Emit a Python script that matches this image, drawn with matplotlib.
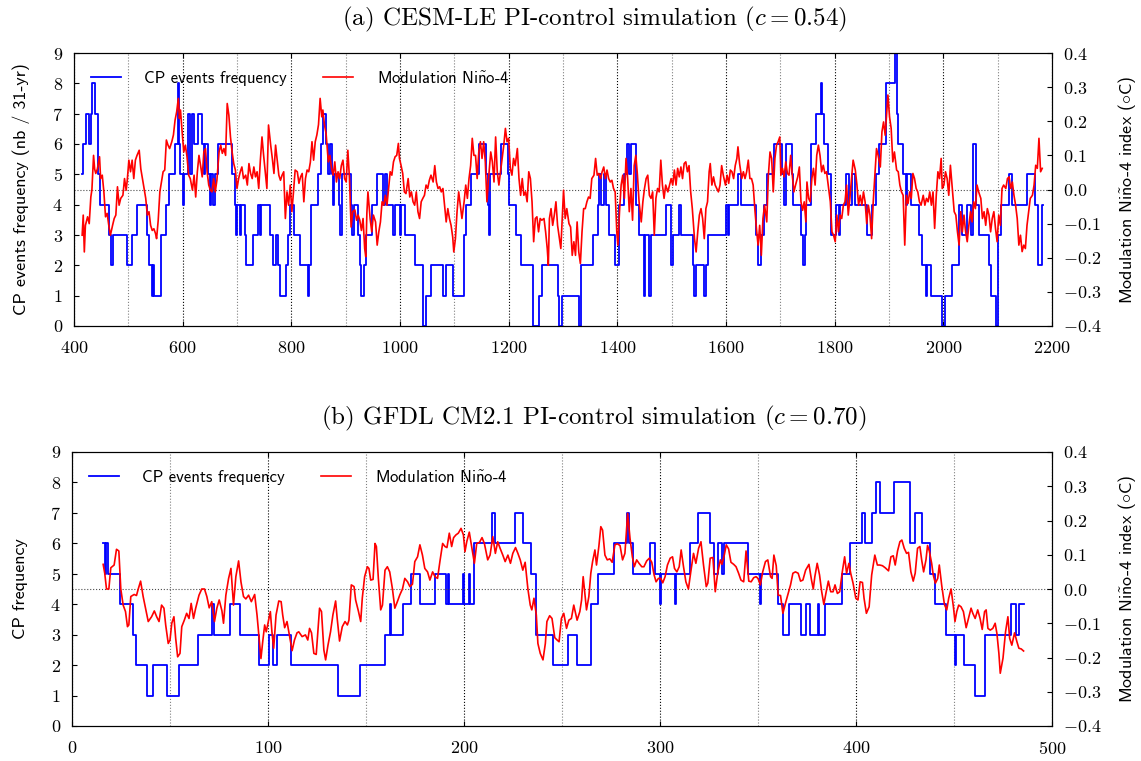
import matplotlib
matplotlib.use("Agg")
import matplotlib.pyplot as plt
from matplotlib.ticker import MultipleLocator

plt.rcParams['font.family'] = 'serif'
plt.rcParams['font.serif'] = ['cmr10']
plt.rcParams['mathtext.fontset'] = 'cm'
plt.rcParams['axes.formatter.use_mathtext'] = True
plt.rcParams['axes.unicode_minus'] = True

SANS = ['cmss10', 'DejaVu Sans']
NINO = r'Ni$\tilde{\mathsf{n}}$o-4'

# ---------------- (a) CESM-LE ----------------
# CP events frequency: change years and level (step function)
cesm_cp_years = [415, 416, 422, 428, 431, 434, 439, 443.5, 448, 465, 469, 471, 497, 506, 516, 535,
                 538.5, 543, 545, 547, 561, 569, 575, 586, 590.5, 593.5, 595, 601, 602, 610, 613,
                 618, 620.5, 628.5, 635, 639, 641, 647, 650, 653, 656, 659, 665, 690, 696, 698, 700,
                 705, 708, 714, 717, 729.5, 739, 742, 745, 760, 766, 771, 775.5, 778.5, 791, 794,
                 798, 805, 816, 830, 833, 836, 849, 855, 858, 863, 867.5, 870.5, 875, 876.7, 878.5,
                 888, 890, 893, 910, 912, 914.6, 922.6, 925.7, 928.8, 933.7, 938, 949, 957.6, 968.6,
                 971.6, 976, 987, 990, 999.2, 1002, 1008.4, 1026.8, 1042, 1043, 1047, 1057.4, 1078.9,
                 1085, 1097.3, 1118.7, 1121.8, 1131, 1146.3, 1158.5, 1161.6, 1163.4, 1166, 1186,
                 1198.4, 1201.4, 1213.7, 1222.9, 1244.3, 1256.6, 1261.5, 1290, 1293, 1298, 1329,
                 1333, 1355, 1364, 1367, 1370, 1376, 1379, 1385, 1396, 1402.5, 1413, 1417, 1422,
                 1425, 1434, 1440.4, 1448.4, 1451.4, 1459, 1462, 1489.5, 1498.6, 1501.7, 1512.7,
                 1517, 1538.5, 1542, 1544.6, 1560, 1563, 1566, 1600, 1603, 1606, 1623, 1627.3,
                 1636.5, 1655, 1658, 1664, 1670, 1676, 1688.6, 1698, 1703, 1707, 1711, 1721, 1723.5,
                 1737.6, 1742.5, 1745.6, 1748, 1756, 1765, 1774.4, 1777.5, 1780.5, 1788.5, 1792.8,
                 1803, 1808, 1810, 1820, 1826, 1832.6, 1837.5, 1860, 1869.4, 1875.5, 1881.6, 1894,
                 1910.4, 1914, 1917, 1925.7, 1930.6, 1933.7, 1939.8, 1955, 1961.3, 1967.4, 1970.5,
                 1976.6, 1998, 2002.6, 2016.4, 2028.7, 2033.6, 2044, 2050, 2055, 2059.3, 2065.4,
                 2083.8, 2087, 2096.1, 2100.4, 2105.3, 2120.6, 2126.7, 2154.3, 2169.6, 2174.5,
                 2181.8, 2183]
cesm_cp_vals = [5, 6, 7, 6, 7, 8, 7, 5, 4, 3, 2, 3, 2, 3, 4, 3,
                2, 1, 2, 1, 3, 4, 5, 6, 8, 6, 5, 4, 5, 7, 5,
                7, 6, 7, 6, 5, 6, 5, 4, 5, 4, 5, 6, 5, 4, 3, 4,
                3, 4, 3, 2, 3, 4, 3, 4, 3, 2, 3, 2, 1, 2, 3,
                4, 3, 2, 1, 2, 4, 5, 6, 7, 6, 5, 6, 5, 4, 5,
                4, 3, 5, 4, 3, 4, 3, 2, 1, 2, 3, 4, 5, 4,
                5, 4, 3, 4, 3, 4, 3, 2, 1, 0, 1, 2, 1,
                2, 1, 3, 4, 5, 6, 5, 4, 3, 5, 6,
                5, 4, 3, 2, 0, 1, 2, 1, 0, 1, 0,
                2, 3, 4, 5, 4, 5, 4, 3, 2, 4, 5, 6, 5,
                6, 4, 3, 1, 3, 1, 3, 4, 2, 3, 4,
                3, 2, 1, 2, 1, 2, 3, 4, 3, 4, 5, 4,
                4, 3, 2, 3, 4, 5, 6, 6, 5, 4, 6, 5, 4,
                3, 2, 3, 4, 6, 7, 8, 7, 6, 5, 3,
                4, 3, 4, 5, 4, 5, 4, 3, 4, 5, 6, 8,
                9, 7, 6, 5, 4, 5, 4, 3, 2, 1, 2,
                1, 0, 1, 2, 4, 3, 4, 3, 6, 4, 3,
                2, 1, 0, 3, 4, 5, 4, 5, 4, 2,
                4, 4]

# Modulation Nino-4 (degC)
cesm_n4_years = [415, 417, 419, 421, 425, 428, 431, 433, 436, 438, 440, 443, 447, 449, 452, 455, 458,
                 461, 464, 467, 471, 474, 477, 480, 483, 486, 490, 493, 496, 498, 501, 504, 507, 510,
                 513, 516, 520, 523, 526, 529, 532, 535, 538, 541, 544, 547, 550, 552, 555, 558, 561,
                 564, 567, 570, 573, 576, 580, 583, 586, 589, 592, 594, 596, 599, 602, 605, 608, 611,
                 614, 618, 621, 624, 627, 630, 633, 636, 639, 642, 645, 648, 651, 654, 657, 660, 663,
                 667, 670, 673, 676, 679, 682, 685, 688, 691, 694, 697, 700, 703, 706, 709, 712, 716,
                 719, 722, 725, 728, 731, 734, 737, 740, 743, 746, 749, 752, 755, 758, 762, 765, 768,
                 771, 774, 777, 780, 783, 786, 789, 792, 795, 798, 801, 804, 807, 811, 814, 817, 820,
                 823, 826, 829, 832, 835, 838, 841, 844, 847, 850, 853, 856, 858, 861, 864, 868, 871,
                 874, 877, 880, 883, 886, 889, 892, 895, 898, 901, 904, 907, 910, 913, 917, 920, 923,
                 926, 929, 932, 935, 937, 939, 941, 943, 945, 948, 951, 955, 958, 961, 964, 967, 970,
                 973, 976, 979, 982, 985, 988, 991, 994, 997, 999, 1002, 1005, 1008, 1011, 1015, 1018,
                 1021, 1024, 1027, 1030, 1033, 1036, 1039, 1042, 1045, 1048, 1051, 1054, 1057, 1061,
                 1064, 1067, 1070, 1073, 1076, 1079, 1082, 1085, 1088, 1091, 1094, 1097, 1099, 1102,
                 1105, 1108, 1111, 1114, 1118, 1121, 1124, 1127, 1130, 1133, 1136, 1139, 1142, 1145,
                 1148, 1151, 1154, 1157, 1160, 1163, 1167, 1170, 1173, 1176, 1179, 1182, 1185, 1188,
                 1191, 1194, 1197, 1200, 1203, 1206, 1209, 1212, 1216, 1219, 1222, 1225, 1228, 1231,
                 1234, 1237, 1240, 1243, 1246, 1249, 1252, 1255, 1258, 1261, 1265, 1268, 1271, 1273,
                 1275, 1278, 1281, 1284, 1287, 1290, 1293, 1296, 1300, 1301, 1304, 1307, 1311, 1314,
                 1317, 1320, 1323, 1326, 1329, 1332, 1335, 1338, 1341, 1344, 1347, 1350, 1353, 1357,
                 1360, 1363, 1366, 1369, 1372, 1375, 1378, 1381, 1384, 1387, 1390, 1393, 1396, 1399,
                 1401, 1404, 1407, 1410, 1413, 1416, 1419, 1422, 1425, 1428, 1431, 1434, 1437, 1440,
                 1444, 1447, 1450, 1453, 1456, 1459, 1462, 1465, 1468, 1471, 1474, 1477, 1480, 1483,
                 1486, 1489, 1493, 1496, 1499, 1502, 1505, 1508, 1511, 1514, 1517, 1520, 1523, 1526,
                 1529, 1532, 1535, 1538, 1542, 1545, 1548, 1551, 1554, 1557, 1560, 1563, 1566, 1569,
                 1571, 1574, 1577, 1580, 1583, 1586, 1589, 1592, 1595, 1599, 1602, 1605, 1608, 1611,
                 1614, 1617, 1620, 1622, 1625, 1629, 1632, 1635, 1638, 1641, 1644, 1647, 1650, 1653,
                 1656, 1659, 1662, 1665, 1668, 1671, 1675, 1678, 1681, 1684, 1687, 1690, 1693, 1696,
                 1699, 1701, 1704, 1707, 1710, 1713, 1716, 1719, 1722, 1725, 1728, 1732, 1735, 1738,
                 1741, 1744, 1747, 1749, 1752, 1755, 1758, 1761, 1764, 1767, 1770, 1773, 1776, 1779,
                 1782, 1785, 1789, 1792, 1795, 1798, 1801, 1804, 1807, 1810, 1813, 1816, 1819, 1822,
                 1825, 1828, 1831, 1834, 1838, 1841, 1844, 1847, 1850, 1853, 1856, 1859, 1862, 1865,
                 1868, 1871, 1874, 1877, 1880, 1884, 1887, 1890, 1893, 1896, 1898, 1901, 1904, 1907,
                 1910, 1914, 1917, 1920, 1923, 1926, 1929, 1932, 1935, 1938, 1941, 1944, 1947, 1950,
                 1953, 1956, 1959, 1963, 1966, 1969, 1972, 1975, 1978, 1981, 1984, 1987, 1990, 1993,
                 1996, 1998, 2001, 2004, 2007, 2010, 2013, 2016, 2020, 2023, 2026, 2029, 2032, 2035,
                 2038, 2041, 2044, 2047, 2050, 2053, 2056, 2059, 2062, 2065, 2069, 2072, 2075, 2078,
                 2081, 2084, 2087, 2090, 2093, 2096, 2099, 2102, 2105, 2108, 2111, 2115, 2118, 2121,
                 2124, 2127, 2130, 2133, 2136, 2139, 2142, 2145, 2148, 2151, 2154, 2157, 2160, 2164,
                 2167, 2170, 2173, 2176, 2179, 2182]
cesm_n4_vals = [-0.134, -0.075, -0.183, -0.105, -0.08, -0.10, -0.022, 0.0, 0.10, 0.06, 0.047, 0.06,
                0.096, 0.032, 0.042, -0.007, -0.08, -0.07, -0.105, -0.134, -0.105, -0.085, -0.075,
                0.008, -0.046, -0.026, -0.017, 0.032, -0.002, 0.027, 0.086, 0.052, 0.086, 0.032,
                0.086, 0.10, 0.115, 0.06, 0.032, 0.003, -0.026, -0.075, -0.065, -0.105, -0.12,
                -0.115, -0.129, -0.144, -0.09, -0.007, 0.022, 0.052, 0.057, 0.145, 0.13, 0.12,
                0.14, 0.16, 0.203, 0.228, 0.267, 0.208, 0.233, 0.169, 0.11, 0.13, 0.096, 0.042,
                0.032, -0.002, 0.042, -0.022, 0.052, 0.10, 0.07, 0.037, 0.11, 0.12, 0.052, 0.013,
                -0.002, -0.007, 0.032, -0.007, 0.027, 0.11, 0.13, 0.106, 0.12, 0.10, 0.252, 0.218,
                0.154, 0.11, 0.076, 0.057, 0.003, 0.032, 0.052, 0.066, 0.032, 0.042, 0.013, 0.076,
                0.047, 0.032, 0.066, 0.037, 0.052, 0.003, 0.086, 0.154, 0.10, 0.052, 0.003, 0.189,
                0.13, 0.091, 0.047, 0.13, 0.086, 0.042, 0.027, 0.042, 0.052, -0.085, -0.007,
                -0.046, 0.013, -0.065, -0.007, 0.057, 0.052, 0.018, 0.037, 0.047, -0.036, 0.032,
                0.057, 0.052, 0.08, 0.14, 0.086, 0.14, 0.16, 0.19, 0.267, 0.213, 0.233, 0.189,
                0.164, 0.081, 0.10, 0.062, 0.042, 0.081, 0.022, 0.052, 0.032, 0.07, 0.086, 0.032,
                0.022, 0.115, 0.032, -0.11, -0.065, -0.06, -0.09, -0.075, -0.09, -0.12, -0.085,
                -0.173, -0.197, -0.07, -0.007, -0.046, -0.085, -0.124, -0.075, -0.095, -0.163,
                -0.124, -0.095, -0.036, -0.046, -0.017, -0.046, 0.003, 0.052, 0.042, 0.081, 0.096,
                0.10, 0.135, 0.091, 0.07, 0.047, -0.007, -0.012, 0.032, -0.022, -0.007, -0.036,
                -0.046, -0.007, -0.065, -0.085, -0.036, -0.026, -0.017, 0.013, 0.003, 0.027, 0.042,
                0.022, 0.07, 0.022, 0.003, 0.008, -0.007, 0.003, -0.046, -0.095, -0.056, -0.085,
                -0.105, -0.139, -0.183, -0.144, -0.065, -0.007, -0.046, -0.085, -0.036, 0.013,
                -0.026, 0.032, 0.07, 0.15, 0.10, 0.10, 0.032, 0.11, 0.14, 0.091, 0.14, 0.081,
                -0.036, 0.032, 0.11, 0.081, 0.022, 0.154, 0.052, 0.013, 0.052, 0.091, 0.13, 0.179,
                0.14, 0.15, 0.062, 0.042, 0.091, 0.07, 0.12, 0.032, -0.017, 0.032, -0.017, -0.007,
                -0.036, 0.052, 0.032, -0.036, -0.153, -0.085, -0.08, -0.124, -0.085, -0.09, -0.085,
                -0.124, -0.173, -0.222, -0.085, -0.056, -0.105, -0.075, -0.036, -0.105, -0.139,
                -0.173, -0.036, -0.002, -0.085, -0.056, -0.10, -0.11, -0.193, -0.153, -0.193,
                -0.095, -0.183, -0.217, -0.124, -0.056, -0.056, -0.036, -0.022, -0.026, 0.032,
                0.042, 0.091, 0.042, 0.047, 0.032, 0.052, 0.066, 0.032, 0.057, 0.032, 0.022, 0.027,
                0.003, -0.007, -0.124, -0.163, -0.065, 0.013, 0.042, -0.026, 0.091, 0.032, -0.065,
                0.003, -0.09, 0.07, 0.10, 0.042, -0.036, -0.095, -0.036, 0.003, 0.032, 0.042,
                -0.017, -0.026, -0.007, -0.134, -0.026, 0.003, -0.007, 0.086, 0.013, -0.026, 0.013,
                -0.007, 0.013, 0.032, 0.013, 0.057, 0.013, 0.062, 0.037, 0.066, 0.032, 0.076, 0.081,
                0.052, 0.07, -0.007, -0.056, -0.144, -0.183, -0.124, -0.075, -0.056, -0.085, -0.144,
                -0.056, -0.036, 0.052, 0.076, 0.013, 0.037, 0.013, 0.003, -0.007, 0.013, 0.07,
                0.042, 0.013, 0.042, 0.018, 0.057, 0.052, 0.032, 0.07, 0.091, 0.125, 0.076, 0.032,
                0.052, 0.032, 0.052, 0.086, 0.032, 0.032, 0.013, -0.056, -0.114, -0.163, -0.105,
                -0.193, -0.085, -0.046, -0.095, 0.042, 0.11, 0.091, -0.007, 0.091, 0.13, 0.14,
                0.154, 0.042, 0.062, 0.037, 0.081, 0.047, 0.042, 0.10, 0.042, -0.007, 0.013, 0.037,
                0.066, -0.036, -0.061, -0.036, -0.095, 0.022, -0.026, -0.036, 0.032, 0.062, 0.013,
                0.10, 0.13, 0.10, 0.052, 0.071, 0.047, 0.052, 0.003, -0.036, -0.124, -0.134,
                -0.153, -0.075, -0.124, -0.075, -0.085, -0.046, -0.036, 0.013, -0.075, -0.026,
                0.032, 0.086, 0.057, 0.013, -0.046, -0.017, -0.046, -0.007, -0.036, -0.10, -0.046,
                -0.075, -0.144, -0.036, 0.042, 0.12, 0.10, 0.066, 0.169, 0.198, 0.159, 0.228,
                0.277, 0.213, 0.179, 0.081, 0.11, 0.057, 0.052, 0.013, -0.007, -0.017, -0.163,
                -0.017, -0.041, -0.007, -0.026, 0.047, 0.032, 0.003, -0.007, -0.036, -0.046,
                -0.017, -0.046, -0.026, -0.036, -0.007, -0.046, -0.007, -0.114, -0.017, 0.052,
                0.032, 0.091, 0.003, 0.013, 0.052, 0.032, -0.017, 0.071, 0.013, -0.065, -0.075,
                -0.124, -0.163, -0.065, -0.124, -0.075, -0.124, -0.153, -0.105, -0.065, -0.095,
                -0.036, -0.056, 0.013, -0.007, -0.026, -0.085, -0.065, -0.105, -0.056, -0.075,
                -0.124, -0.085, -0.065, -0.114, -0.153, -0.075, -0.105, 0.003, 0.013, 0.003, 0.032,
                0.037, 0.003, 0.022, -0.017, -0.046, -0.085, -0.163, -0.134, -0.182, -0.163,
                -0.173, -0.105, -0.065, -0.026, -0.017, 0.013, 0.071, 0.062, 0.15, 0.052, 0.062]

# ---------------- (b) GFDL CM2.1 ----------------
gfdl_cp_years = [16, 16.7, 17.6, 18.5, 24.5, 31, 32.5, 38.5, 41.5, 48.5, 54.5, 64.5, 71.3, 72.5,
                 80.5, 85.5, 95.5, 100.5, 102.5, 104.5, 111.5, 135.5, 146.8, 159.5, 162, 163, 169,
                 173, 177.5, 185, 191, 191.8, 192.5, 199.5, 200.2, 202.3, 203, 205, 214.5, 216, 226,
                 230, 234, 236.5, 245.5, 253.3, 257.5, 265, 268.3, 276.5, 283, 284, 286, 295, 297.5,
                 300, 300.5, 307.5, 308.2, 315.5, 319.5, 325.3, 327.8, 329.6, 331.6, 332.5, 345,
                 350.8, 351.3, 360, 362.7, 366, 372, 374.3, 376.7, 380.5, 381.2, 384, 393, 397, 403,
                 404.5, 408, 410, 412, 419.3, 427.5, 430, 433.5, 438, 440.5, 446, 450.3, 450.8, 455,
                 460.8, 466, 479, 481.8, 483, 485.5]
gfdl_cp_vals = [6, 5, 6, 5, 4, 3, 2, 1, 2, 1, 2, 3, 4, 3,
                4, 3, 2, 3, 2, 3, 2, 1, 2, 3, 4, 3, 4,
                5, 4, 5, 4, 5, 4, 5, 4, 5, 4, 6, 7, 6, 7,
                6, 5, 3, 2, 3, 2, 4, 5, 6, 7, 6, 5, 6, 5,
                4, 5, 4, 5, 6, 7, 6, 5, 6, 5, 6, 5,
                4, 5, 4, 3, 4, 3, 4, 3, 4, 3, 4, 5, 6, 7,
                6, 7, 8, 7, 8, 6, 7, 6, 5, 4, 3, 2, 3, 2,
                1, 3, 4, 3, 4, 4]

gfdl_n4_years = [15.9, 16.7, 17.6, 18.8, 19.8, 21.5, 22.7, 23.9, 24.9, 26.1, 27.3, 28.3, 29.0, 30.0,
                 31.7, 32.9, 33.8, 35.0, 36.3, 37.5, 38.9, 40.6, 42.0, 43.2, 44.4, 45.7, 46.9, 47.8,
                 49.1, 50.0, 50.9, 52.0, 52.9, 53.9, 55.1, 56.0, 57.3, 58.5, 59.7, 60.8, 62.0, 63.1,
                 64.8, 66.2, 67.6, 68.8, 70.0, 71.3, 72.7, 73.9, 75.1, 76.5, 77.3, 78.5, 79.9, 81.1,
                 82.4, 83.6, 85.0, 86.2, 87.5, 88.7, 90.1, 91.5, 93.2, 94.4, 95.6, 96.4, 97.3, 98.3,
                 99.1, 100.3, 101.2, 102.0, 102.9, 104.1, 105.5, 106.7, 107.5, 108.5, 109.7, 110.9,
                 112.3, 113.5, 114.8, 115.7, 117.4, 119.1, 120.3, 121.2, 122.2, 123.4, 124.6, 126.3,
                 127.3, 128.5, 129.4, 130.6, 131.9, 133.1, 134.5, 135.3, 136.5, 137.9, 139.3, 140.5,
                 141.3, 142.5, 143.9, 144.7, 146.1, 147.3, 148.1, 149.3, 150.7, 151.5, 152.4, 153.6,
                 154.6, 155.3, 156.3, 157.5, 158.4, 159.7, 160.9, 162.1, 163.5, 164.7, 166.0, 167.2,
                 168.6, 169.8, 171.2, 172.4, 173.7, 174.9, 176.3, 177.5, 178.8, 180.0, 181.4, 182.6,
                 184.0, 185.2, 186.5, 187.7, 189.1, 190.3, 191.3, 192.5, 193.7, 194.7, 195.9, 197.1,
                 198.5, 199.7, 200.5, 201.4, 202.7, 203.9, 205.3, 206.5, 207.9, 209.2, 210.4, 212.1,
                 213.3, 214.7, 216.0, 217.2, 218.4, 219.8, 221.0, 222.4, 223.7, 224.9, 226.3, 227.5,
                 228.7, 230.0, 231.2, 232.6, 233.8, 234.6, 235.7, 236.9, 237.7, 238.9, 240.3, 241.5,
                 242.3, 243.7, 244.9, 246.3, 247.5, 248.5, 249.7, 250.9, 252.3, 253.5, 254.8, 256.0,
                 257.7, 259.1, 260.0, 260.8, 262.5, 263.7, 264.7, 265.6, 266.8, 267.6, 268.8, 269.8,
                 270.7, 271.9, 273.1, 274.4, 275.6, 277.0, 278.2, 279.6, 280.9, 282.1, 283.5, 284.7,
                 285.9, 286.9, 288.1, 289.3, 290.7, 291.8, 293.2, 294.6, 295.8, 297.0, 298.0, 299.2,
                 300.4, 301.4, 302.6, 303.8, 305.2, 306.4, 307.4, 308.6, 309.8, 310.8, 312.0, 313.2,
                 314.5, 315.7, 317.1, 318.3, 319.7, 320.9, 322.2, 323.6, 324.4, 325.6, 327.0, 328.2,
                 329.4, 330.8, 331.6, 332.8, 333.8, 335.0, 336.2, 337.6, 338.8, 340.1, 341.3, 342.7,
                 343.9, 345.3, 346.5, 347.8, 349.0, 350.0, 351.2, 352.4, 353.8, 355.0, 356.4, 357.2,
                 358.1, 359.3, 360.3, 361.5, 362.7, 364.0, 365.4, 366.6, 367.8, 369.1, 370.5, 371.7,
                 372.9, 374.3, 376.0, 377.3, 378.2, 379.0, 380.2, 381.4, 382.5, 383.6, 384.8, 385.9,
                 387.1, 388.3, 389.3, 390.5, 391.7, 393.0, 394.2, 395.2, 396.4, 397.3, 398.5, 399.9,
                 401.0, 402.1, 403.3, 404.1, 405.3, 406.7, 408.0, 409.6, 410.9, 412.1, 413.5, 414.9,
                 416.6, 417.8, 419.0, 420.0, 421.2, 422.4, 423.4, 424.6, 425.8, 426.8, 428.0, 429.2,
                 430.2, 431.4, 432.6, 433.5, 434.5, 435.7, 436.5, 437.4, 438.6, 439.4, 440.5, 441.7,
                 442.5, 443.7, 445.1, 446.3, 447.3, 448.5, 449.7, 450.5, 451.4, 452.4, 453.6, 454.8,
                 456.2, 457.4, 458.7, 459.6, 460.8, 462.1, 463.3, 464.4, 465.6, 466.4, 467.3, 468.5,
                 469.8, 471.0, 471.9, 472.9, 473.6, 475.0, 476.3, 477.5, 478.4, 479.5, 480.9, 482.1,
                 483.1, 484.3, 485.5]
gfdl_n4_vals = [0.072, 0.046, 0.0, 0.0, 0.062, 0.07, 0.116, 0.111, 0.0, -0.047, -0.066, -0.11, -0.105,
                -0.022, -0.016, -0.019, 0.0, 0.023, -0.022, -0.056, -0.095, -0.081, -0.064, -0.081,
                -0.095, -0.047, -0.056, -0.105, -0.159, -0.149, -0.10, -0.081, -0.144, -0.198,
                -0.188, -0.11, -0.091, -0.071, -0.086, -0.042, -0.086, -0.056, -0.018, 0.0, 0.0,
                -0.022, -0.055, -0.037, -0.095, -0.056, -0.032, -0.064, -0.10, -0.018, 0.031, 0.06,
                -0.047, 0.036, 0.082, 0.021, -0.022, -0.029, -0.018, -0.037, -0.016, -0.076, -0.154,
                -0.203, -0.154, -0.105, -0.125, -0.091, -0.066, -0.125, -0.173, -0.076, -0.035,
                -0.037, -0.076, -0.113, -0.095, -0.134, -0.18, -0.149, -0.128, -0.125, -0.139,
                -0.134, -0.149, -0.115, -0.128, -0.188, -0.191, -0.056, -0.066, -0.178, -0.207,
                -0.164, -0.125, -0.076, -0.035, -0.086, -0.152, -0.11, -0.095, -0.105, -0.091,
                0.012, 0.007, -0.032, -0.064, -0.095, -0.027, 0.036, 0.065, 0.06, 0.026, 0.028,
                0.133, 0.124, 0.031, -0.061, -0.047, 0.055, 0.065, 0.05, 0.0, -0.056, -0.037,
                -0.018, 0.0, 0.031, 0.021, 0.007, 0.014, 0.08, 0.094, 0.129, 0.099, 0.06, 0.05,
                0.026, 0.05, 0.036, 0.031, 0.08, 0.133, 0.124, 0.121, 0.163, 0.124, 0.15, 0.158,
                0.163, 0.177, 0.158, 0.109, 0.138, 0.166, 0.124, 0.075, 0.133, 0.136, 0.15, 0.133,
                0.085, 0.099, 0.153, 0.104, 0.138, 0.119, 0.099, 0.08, 0.099, 0.075, 0.104, 0.121,
                0.104, 0.085, 0.055, 0.078, 0.0, -0.047, -0.061, -0.027, -0.076, -0.159, -0.188,
                -0.207, -0.159, -0.095, -0.078, -0.086, -0.142, -0.149, -0.154, -0.086, -0.071,
                -0.115, -0.091, -0.086, -0.047, -0.091, -0.066, -0.032, 0.036, -0.061, -0.022,
                0.046, 0.08, 0.114, 0.07, 0.124, 0.182, 0.172, 0.099, 0.085, 0.088, 0.078, 0.129,
                0.132, 0.127, 0.085, 0.104, 0.221, 0.148, 0.094, 0.065, 0.085, 0.075, 0.065, 0.065,
                0.082, 0.09, 0.078, 0.041, 0.021, 0.031, 0.031, 0.018, 0.036, 0.07, 0.09, 0.094,
                0.06, 0.05, 0.065, 0.114, 0.065, 0.021, 0.0, 0.05, 0.104, 0.075, 0.119, 0.138, 0.07,
                0.007, 0.017, 0.09, 0.092, -0.008, 0.046, 0.085, 0.072, 0.099, 0.129, 0.117, 0.078,
                0.072, 0.065, 0.046, 0.026, 0.021, 0.111, 0.023, 0.021, 0.033, 0.036, 0.031, 0.012,
                0.05, 0.08, 0.085, 0.036, 0.031, 0.099, 0.068, -0.018, -0.019, -0.071, -0.042,
                -0.013, 0.012, 0.046, 0.05, 0.046, 0.023, 0.026, 0.055, 0.072, 0.026, 0.0, 0.036,
                0.075, 0.041, -0.008, -0.045, -0.008, 0.023, -0.008, -0.008, 0.012, -0.013, -0.008,
                0.05, 0.094, 0.046, 0.075, 0.046, 0.017, -0.027, -0.032, 0.021, 0.019, -0.027,
                -0.071, -0.052, 0.041, 0.099, 0.07, 0.07, 0.068, 0.062, 0.053, 0.094, 0.097, 0.07,
                0.111, 0.138, 0.143, 0.119, 0.104, 0.107, 0.05, 0.023, 0.046, 0.119, 0.124, 0.085,
                0.05, 0.085, 0.127, 0.111, 0.075, 0.041, 0.017, 0.031, 0.07, 0.012, -0.045, -0.061,
                -0.027, 0.0, -0.052, -0.095, -0.066, -0.047, -0.052, -0.066, -0.113, -0.086, -0.056,
                -0.071, -0.086, -0.061, -0.086, -0.118, -0.066, -0.061, -0.115, -0.12, -0.115,
                -0.10, -0.13, -0.188, -0.246, -0.202, -0.125, -0.081, -0.144, -0.164, -0.128,
                -0.154, -0.173, -0.175, -0.181]

panels = [
    dict(title=r'(a) CESM-LE PI-control simulation ($c = 0.54$)',
         ylabel='CP events frequency (nb / 31-yr)',
         cp=(cesm_cp_years, cesm_cp_vals), n4=(cesm_n4_years, cesm_n4_vals),
         xlim=(400, 2200), major=200, minor=100,
         rect=[74 / 1141, 1 - 326 / 761, 978 / 1141, 273 / 761]),
    dict(title=r'(b) GFDL CM2.1 PI-control simulation ($c = 0.70$)',
         ylabel='CP frequency',
         cp=(gfdl_cp_years, gfdl_cp_vals), n4=(gfdl_n4_years, gfdl_n4_vals),
         xlim=(0, 500), major=100, minor=50,
         rect=[72 / 1141, 1 - 726 / 761, 980 / 1141, 274 / 761]),
]

fig = plt.figure(figsize=(11.41, 7.61), dpi=100)

for p in panels:
    ax = fig.add_axes(p['rect'])
    ax2 = ax.twinx()

    l1, = ax.step(p['cp'][0], p['cp'][1], where='post', color='#0000ff', lw=1.3,
                  label='CP events frequency')
    l2, = ax2.plot(p['n4'][0], p['n4'][1], color='#ff0000', lw=1.2,
                   label='Modulation ' + NINO)

    ax.set_xlim(*p['xlim'])
    ax.set_ylim(0, 9)
    ax2.set_ylim(-0.4, 0.4)
    ax.xaxis.set_major_locator(MultipleLocator(p['major']))
    ax.xaxis.set_minor_locator(MultipleLocator(p['minor']))
    ax.yaxis.set_major_locator(MultipleLocator(1))
    ax2.yaxis.set_major_locator(MultipleLocator(0.1))
    ax2.yaxis.set_major_formatter(plt.FuncFormatter(lambda v, pos: f'${v:.1f}$'))

    ax.grid(True, which='major', axis='x', color='black', ls=':', lw=0.8)
    ax.grid(True, which='minor', axis='x', color='0.5', ls=':', lw=0.8)
    ax.axhline(4.5, color='0.3', ls=':', lw=0.8)

    ax.tick_params(which='both', direction='in', top=True, labelsize=13, colors='black')
    ax.tick_params(axis='x', pad=10)
    ax.tick_params(axis='y', pad=8)
    ax.tick_params(which='minor', length=0, top=False)
    ax2.tick_params(direction='in', labelsize=13, pad=8)

    ax.set_title(p['title'], fontsize=18, pad=20, x=0.532)
    ax.set_ylabel(p['ylabel'], family=SANS, fontsize=13, labelpad=16)
    ax2.set_ylabel('Modulation ' + NINO + r' index ($\circ$C)', family=SANS, fontsize=13,
                   labelpad=10)

    ax2.legend([l1, l2], [l1.get_label(), l2.get_label()], loc='upper left', ncol=2,
               frameon=False, prop={'family': SANS, 'size': 12}, handlelength=1.8,
               handletextpad=1.4, columnspacing=2.2, borderaxespad=0.6)

fig.savefig('out.png', dpi=100)
